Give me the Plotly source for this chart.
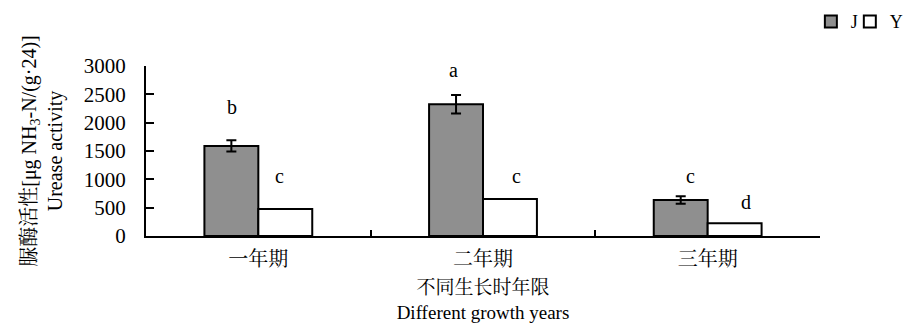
import plotly.graph_objects as go

# Growth period categories
years = ["一年期", "二年期", "三年期"]

# Urease activity, μg NH3-N/(g·24)
j_values = [1590, 2325, 635]
j_errors = [100, 165, 65]
y_values = [478, 655, 225]

# Significance letters above each bar, with their label heights
j_letters = ["b", "a", "c"]
j_letter_y = [2276, 2929, 1059]
y_letters = ["c", "c", "d"]
y_letter_y = [1059, 1059, 600]

y_ticks = [0, 500, 1000, 1500, 2000, 2500, 3000]

FONT = "Liberation Serif, Times New Roman, Noto Serif CJK SC, Noto Sans CJK SC, serif"

fig = go.Figure()
fig.add_trace(go.Bar(
    name="J", x=years, y=j_values, legend="legend", showlegend=True,
    marker=dict(color="#8f8f8f", line=dict(color="black", width=2)),
    error_y=dict(type="data", array=j_errors, color="black", thickness=2, width=5),
))
fig.add_trace(go.Bar(
    name="Y", x=years, y=y_values, legend="legend2", showlegend=True,
    marker=dict(color="white", line=dict(color="black", width=2)),
))

# letters sit over their bars; small per-letter nudges in px
half_bar_px = 27
j_nudge = [1, -3, 10]
y_nudge = [-6, 6, 11]
for i, cat in enumerate(years):
    fig.add_annotation(x=cat, y=j_letter_y[i], text=j_letters[i], showarrow=False,
                       xshift=-half_bar_px + j_nudge[i],
                       font=dict(family=FONT, size=20, color="black"))
    fig.add_annotation(x=cat, y=y_letter_y[i], text=y_letters[i], showarrow=False,
                       xshift=half_bar_px + y_nudge[i],
                       font=dict(family=FONT, size=20, color="black"))

legend_style = dict(
    orientation="h", xref="container", yref="container",
    xanchor="left", y=0.99, yanchor="top",
    font=dict(family=FONT, size=18, color="black"),
    itemwidth=30, bgcolor="rgba(0,0,0,0)", visible=True,
)

fig.update_layout(
    width=906, height=324,
    margin=dict(l=146, r=86, t=66, b=88, autoexpand=False),
    paper_bgcolor="white", plot_bgcolor="white",
    showlegend=True,
    barmode="group", bargap=0.52, bargroupgap=0,
    font=dict(family=FONT, size=20, color="black"),
    legend=dict(legend_style, x=0.895),
    legend2=dict(legend_style, x=0.938),
    xaxis=dict(
        type="category", showline=True, linecolor="black", linewidth=2,
        ticks="inside", tickson="boundaries", ticklen=6, tickwidth=2, tickcolor="black",
        showgrid=False, zeroline=False, ticklabelstandoff=4, automargin=False,
        tickfont=dict(family=FONT, size=20),
        title=dict(text="不同生长时年限<br>Different growth years",
                   font=dict(family=FONT, size=19), standoff=12),
    ),
    yaxis=dict(
        range=[0, 3000], tickvals=y_ticks, showline=True, linecolor="black", linewidth=2,
        ticks="inside", ticklen=8, tickwidth=2, tickcolor="black",
        showgrid=False, zeroline=False, ticklabelstandoff=14, automargin=False,
        tickfont=dict(family=FONT, size=21),
        title=dict(text="脲酶活性[μg NH<sub>3</sub>-N/(g·24)]<br>Urease activity",
                   font=dict(family=FONT, size=20), standoff=16),
    ),
)

fig.write_html("out.html")
